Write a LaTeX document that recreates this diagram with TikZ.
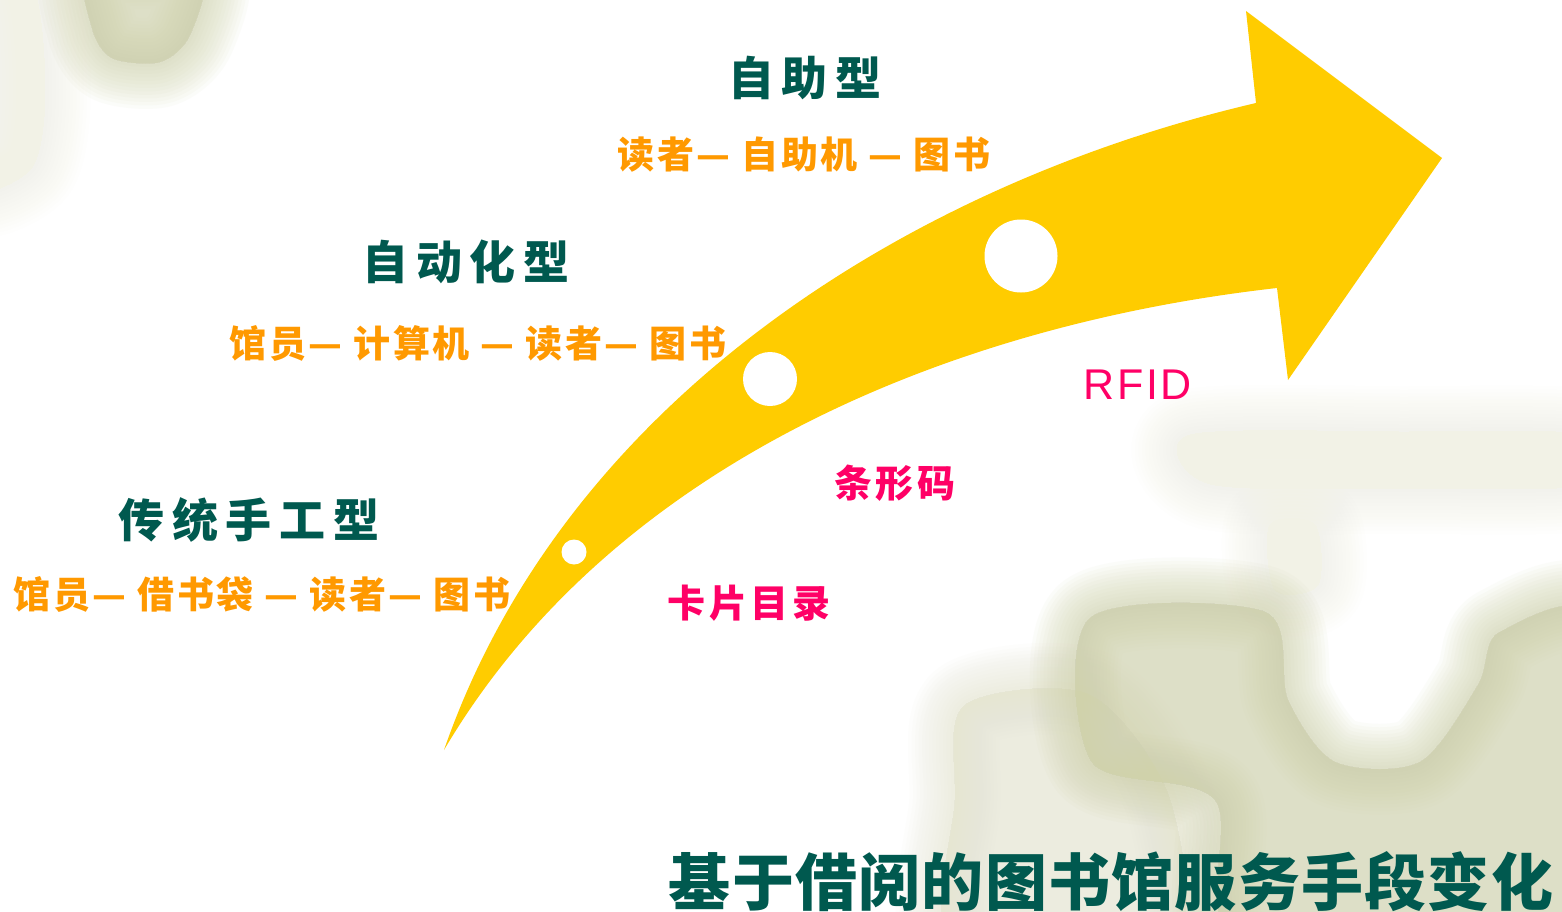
\documentclass[tikz,border=0pt]{standalone}
\usepackage{fontspec}
\setmainfont{Liberation Sans}
\newfontfamily\cjk{Noto Sans CJK SC}
\definecolor{arrowyellow}{HTML}{FFCC00}
\definecolor{tealtext}{HTML}{00594F}
\definecolor{orangetext}{HTML}{FF9900}
\definecolor{pinktext}{HTML}{FF0066}
\definecolor{blobdark}{HTML}{D0D2AB}
\definecolor{bloblight}{HTML}{E6E6D2}
\definecolor{blobfaint}{HTML}{F2F2E6}
\newcommand{\softblob}[2]{%
  \foreach \w in {91,84,...,0} {
    \fill[#1, opacity=0.065, draw=#1, line width=\w pt, line join=round] #2;
  }%
}
\begin{document}
\begin{tikzpicture}[x=1pt,y=-1pt,
  heading/.style={text=tealtext, font=\cjk\bfseries\addfontfeature{LetterSpace=17}\fontsize{46}{50}\selectfont, inner sep=0pt},
  relation/.style={text=orangetext, font=\cjk\bfseries\addfontfeature{LetterSpace=7}\fontsize{37}{42}\selectfont, inner sep=0pt},
  tech/.style={text=pinktext, font=\cjk\bfseries\addfontfeature{LetterSpace=10}\fontsize{38}{42}\selectfont, inner sep=0pt},
  techlatin/.style={text=pinktext, font=\addfontfeature{LetterSpace=6}\fontsize{43}{46}\selectfont, inner sep=0pt},
  titletext/.style={text=tealtext, font=\cjk\bfseries\addfontfeature{LetterSpace=2}\fontsize{62}{66}\selectfont, inner sep=0pt},
  hole/.style={circle, fill=white, inner sep=0pt}
]
\useasboundingbox (0,0) rectangle (1562,912);
\fill[white] (0,0) rectangle (1562,912);

% background blobs
\begin{scope}
\clip (0,0) rectangle (1562,912);
\softblob{blobfaint}{plot[smooth cycle] coordinates {(-40,-30) (30,-20) (45,90) (30,170) (-40,180)}}
\softblob{blobdark}{plot[smooth cycle] coordinates {(90,-30) (200,-30) (190,35) (160,62) (112,58) (92,28)}}
\softblob{blobfaint}{plot[smooth cycle] coordinates {(1190,435) (1400,432) (1600,436) (1600,484) (1400,488) (1210,484)}}
\softblob{blobfaint}{plot[smooth cycle] coordinates {(1270,525) (1315,525) (1318,585) (1275,590)}}
\softblob{bloblight}{plot[smooth cycle] coordinates {(965,705) (1090,695) (1170,800) (1170,950) (955,950) (955,800)}}
\softblob{blobdark}{plot[smooth cycle] coordinates {(1090,618) (1265,612) (1288,700) (1335,762) (1420,762) (1478,685) (1500,632) (1600,625) (1600,950) (1245,950) (1215,800) (1092,762)}}
\end{scope}

% curved arrow
\fill[arrowyellow] (444,750) .. controls (565,401) and (909,184) .. (1256,103)
  -- (1246,11) -- (1442,158) -- (1288,380) -- (1277,288)
  .. controls (957,324) and (615,460) .. (444,750) -- cycle;

% holes on the arrow
\node[hole, minimum size=25pt] (h1) at (574,552) {};
\node[hole, minimum size=54pt] (h2) at (770,379) {};
\node[hole, minimum size=73pt] (h3) at (1021,256) {};

% stage headings and relations
\node[heading] (s3) at (805,78) {自助型};
\node[relation] (r3) at (804,155) {读者— 自助机 — 图书};
\node[heading] (s2) at (466,262) {自动化型};
\node[relation] (r2) at (478,343) {馆员— 计算机 — 读者— 图书};
\node[heading] (s1) at (249,520) {传统手工型};
\node[relation] (r1) at (262,594) {馆员— 借书袋 — 读者— 图书};

% technologies
\node[techlatin] (t3) at (1138,385) {RFID};
\node[tech] (t2) at (895,483) {条形码};
\node[tech] (t1) at (749,603) {卡片目录};

% title
\node[titletext] (title) at (1111,882) {基于借阅的图书馆服务手段变化};
\end{tikzpicture}
\end{document}
